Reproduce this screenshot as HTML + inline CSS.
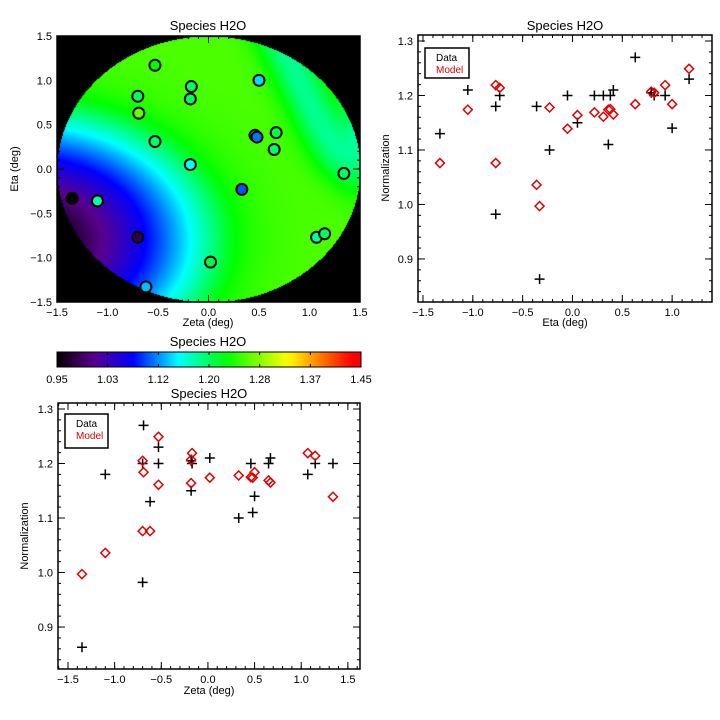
<!DOCTYPE html>
<html><head><meta charset="utf-8"><style>
body{margin:0;background:#fff;width:720px;height:720px;overflow:hidden;font-family:"Liberation Sans",sans-serif}
#wrap{position:relative;width:720px;height:720px}
canvas{position:absolute;left:57px;top:36px}
svg{position:absolute;left:0;top:0}
</style></head><body><div id="wrap">
<canvas id="field" width="303" height="266"></canvas>
<svg id="s" width="720" height="720"></svg>
</div>
<script>
const zeta=[-1.35,-1.10,-0.70,-0.69,-0.70,-0.62,-0.53,-0.53,-0.17,-0.18,-0.18,0.02,0.33,0.46,0.48,0.50,0.65,0.67,1.07,1.15,1.34];
const eta=[-0.33,-0.36,0.82,0.63,-0.77,-1.33,1.17,0.31,0.93,0.79,0.05,-1.05,-0.23,0.38,0.36,1.00,0.22,0.41,-0.77,-0.73,-0.05];
const dataVals=[0.863,1.18,1.20,1.27,0.982,1.13,1.23,1.20,1.20,1.205,1.15,1.21,1.10,1.20,1.11,1.14,1.20,1.21,1.18,1.20,1.20];
const modelVals=[0.997,1.036,1.205,1.184,1.076,1.076,1.249,1.161,1.219,1.207,1.164,1.174,1.178,1.175,1.174,1.184,1.169,1.165,1.219,1.214,1.139];
const cbTicks=["0.95","1.03","1.12","1.20","1.28","1.37","1.45"];
const mapTicks=[-1.5,-1.0,-0.5,0.0,0.5,1.0,1.5];
const normTicks=[0.9,1.0,1.1,1.2,1.3];
const vmin=0.95,vmax=1.45;
const stops=[[0,0,0,0],[0.12,90,0,140],[0.25,0,0,255],[0.40,0,255,255],[0.56,0,255,0],[0.76,255,255,0],[0.86,255,130,0],[0.97,255,0,0],[1,255,0,0]];
function cmap(v){let t=Math.max(0,Math.min(1,(v-vmin)/(vmax-vmin)));for(let i=1;i<stops.length;i++){if(t<=stops[i][0]){const a=stops[i-1],b=stops[i],f=(t-a[0])/(b[0]-a[0]);return [0,1,2].map(k=>Math.round(a[k+1]+f*(b[k+1]-a[k+1])));}}return [255,0,0];}
function rgb(c){return `rgb(${c[0]},${c[1]},${c[2]})`;}
function fieldVal(z,e){
 const r=Math.sqrt(((z+1.8)/1.5)**2+((e+0.8)/1.2)**2);
 let v=0.93+0.2*Math.pow(r,1.3);
 const cap=1.26;if(v>cap-0.05){const x=v-(cap-0.05);v=cap-0.05+0.05*(1-Math.exp(-x/0.05));}
 const ax=0.65,ay=1.6,bx=1.35,by=-0.1;const lx=bx-ax,ly=by-ay,L=Math.hypot(lx,ly);
 const d=((z-ax)*ly-(e-ay)*lx)/L;
 const f=1/(1+Math.exp(-(e+0.1)/0.15));
 v-=0.075*f*Math.exp(-d*d/0.06);
 v-=0.09*Math.exp(-(((z-1.6)**2)/0.06+((e-0.5)**2)/0.3));
 return v;}
const cv=document.getElementById('field'),ctx=cv.getContext('2d');const img=ctx.createImageData(303,266);
for(let y=0;y<266;y++)for(let x=0;x<303;x++){const z=-1.5+3*x/303,e=1.5-3*y/266;const i=(y*303+x)*4;let c=[0,0,0];if(z*z+e*e<=2.25)c=cmap(fieldVal(z,e));img.data[i]=c[0];img.data[i+1]=c[1];img.data[i+2]=c[2];img.data[i+3]=255;}
ctx.putImageData(img,0,0);
const NS='http://www.w3.org/2000/svg';const S=document.getElementById('s');
function el(t,a,p){const n=document.createElementNS(NS,t);for(const k in a)n.setAttribute(k,a[k]);(p||S).appendChild(n);return n;}
function txt(x,y,s,opt){const n=el('text',Object.assign({x:x,y:y,'font-size':11,'text-anchor':'middle','font-family':'Liberation Sans, sans-serif',fill:'#000'},opt||{}));n.textContent=s;return n;}
function lin(x0,x1,d0,d1){return v=>x0+(v-d0)/(d1-d0)*(x1-x0);}
function frame(name,X0,X1,Y0,Y1,xs,ys,xt,yt,xminor,yminor,xd,yd){
 const g=el('g',{});
 el('rect',{x:X0,y:Y0,width:X1-X0,height:Y1-Y0,fill:'none',stroke:'#000','stroke-width':1.5},g);
 xt.forEach(v=>{const x=xs(v);el('line',{x1:x,x2:x,y1:Y1,y2:Y1-7,stroke:'#000'},g);el('line',{x1:x,x2:x,y1:Y0,y2:Y0+7,stroke:'#000'},g);txt(x,Y1+14,v.toFixed(1).replace('-','\u2212'),{});});
 yt.forEach(v=>{const y=ys(v);el('line',{x1:X0,x2:X0+7,y1:y,y2:y,stroke:'#000'},g);el('line',{x1:X1,x2:X1-7,y1:y,y2:y,stroke:'#000'},g);txt(X0-5,y+4,v.toFixed(1).replace('-','\u2212'),{'text-anchor':'end'});});
 for(let v=xd[0];v<=xd[1]+1e-9;v+=xminor){const x=xs(v);if(x<X0||x>X1)continue;el('line',{x1:x,x2:x,y1:Y1,y2:Y1-3,stroke:'#000'},g);el('line',{x1:x,x2:x,y1:Y0,y2:Y0+3,stroke:'#000'},g);}
 for(let v=yd[0];v<=yd[1]+1e-9;v+=yminor){const y=ys(v);if(y<Y0||y>Y1)continue;el('line',{x1:X0,x2:X0+3,y1:y,y2:y,stroke:'#000'},g);el('line',{x1:X1,x2:X1-3,y1:y,y2:y,stroke:'#000'},g);}
}
const mx=lin(57,360,-1.5,1.5),my=lin(302,36,-1.5,1.5);
frame('map-axes',57,360,36,302,mx,my,mapTicks,mapTicks,0.1,0.1,[-1.5,1.5],[-1.5,1.5]);
txt(208,30,'Species H2O',{'font-size':13});
txt(208,326,'Zeta (deg)',{'font-size':11});
txt(18,169,'Eta (deg)',{'font-size':11,transform:'rotate(-90 18 169)'});
zeta.forEach((z,i)=>{const c=el('circle',{cx:mx(z),cy:my(eta[i]),r:5.5,fill:rgb(cmap(dataVals[i])),stroke:'#000','stroke-width':2});

});
txt(208,346,'Species H2O',{'font-size':13});
const grad=el('linearGradient',{id:'cbg'},el('defs',{}));
for(let i=0;i<=40;i++){el('stop',{offset:(i/40),'stop-color':rgb(cmap(vmin+(vmax-vmin)*i/40))},grad);}
const cb=el('rect',{x:57,y:352,width:304,height:15,fill:'url(#cbg)',stroke:'#000'});

cbTicks.forEach((s,i)=>{const x=57+304*i/6;el('line',{x1:x,x2:x,y1:352,y2:355,stroke:'#000'});el('line',{x1:x,x2:x,y1:367,y2:364,stroke:'#000'});txt(x,383,s);});
const ex=lin(418,712,-1.55,1.40),ey=lin(302,35,0.821,1.311);
frame('eta-axes',418,712,35,302,ex,ey,[-1.5,-1.0,-0.5,0.0,0.5,1.0],normTicks,0.1,0.02,[-1.5,1.4],[0.84,1.31]);
txt(565,30,'Species H2O',{'font-size':13});
txt(565,326,'Eta (deg)');
txt(389,168,'Normalization',{transform:'rotate(-90 389 168)'});
function plus(x,y,name){const p=el('path',{d:`M${x-5},${y}H${x+5}M${x},${y-5}V${y+5}`,stroke:'#000','stroke-width':1.5});}
function diam(x,y,name){const p=el('path',{d:`M${x},${y-4.5}L${x+4.5},${y}L${x},${y+4.5}L${x-4.5},${y}Z`,fill:'none',stroke:'#e00000','stroke-width':1.5});}
eta.forEach((e,i)=>{plus(ex(e),ey(dataVals[i]),'data-point');diam(ex(e),ey(modelVals[i]),'model-point');});
function legend(x,y,w,h,name){const g=el('g',{});el('rect',{x:x,y:y,width:w,height:h,fill:'#fff',stroke:'#000','stroke-width':1.5},g);
 const a=txt(x+11,y+13,'Data',{'text-anchor':'start','font-size':10});g.appendChild(a);const b=txt(x+11,y+25,'Model',{'text-anchor':'start','font-size':10,fill:'#e00000'});g.appendChild(b);}
legend(425,48,44,30,'eta-plot-legend');
const zx=lin(58,360,-1.607,1.63),zy=lin(669,403,0.823,1.311);
frame('zeta-axes',58,360,403,669,zx,zy,mapTicks,normTicks,0.1,0.02,[-1.6,1.6],[0.84,1.31]);
txt(209,398,'Species H2O',{'font-size':13});
txt(209,694,'Zeta (deg)');
txt(28,536,'Normalization',{transform:'rotate(-90 28 536)'});
zeta.forEach((z,i)=>{plus(zx(z),zy(dataVals[i]),'data-point');diam(zx(z),zy(modelVals[i]),'model-point');});
legend(65,414,43,34,'zeta-plot-legend');
</script></body></html>
